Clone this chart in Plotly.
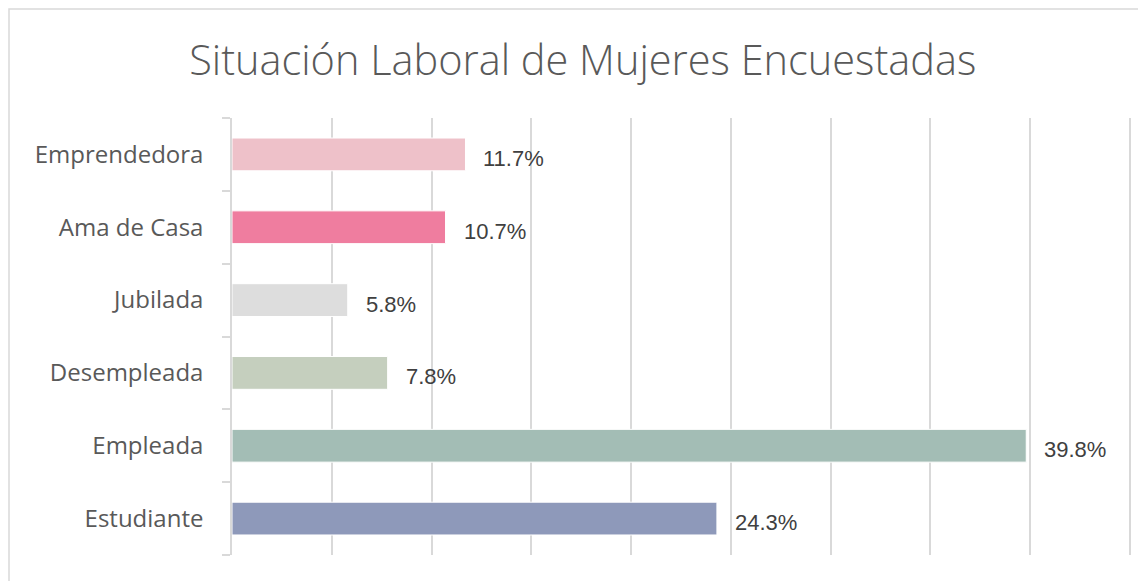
import plotly.graph_objects as go

categories = ["Estudiante", "Empleada", "Desempleada", "Jubilada", "Ama de Casa", "Emprendedora"]
values = [24.3, 39.8, 7.8, 5.8, 10.7, 11.7]
labels = ["24.3%", "39.8%", "7.8%", "5.8%", "10.7%", "11.7%"]
colors = ["#8E99BA", "#A3BDB5", "#C5CFBE", "#DDDDDD", "#EF7D9F", "#EEC1C9"]
title_text = "Situación Laboral de Mujeres Encuestadas"

FONT = "Open Sans, Lato, sans-serif"
LFONT = "Liberation Sans, Arial, sans-serif"
TXT = "#595959"

W, H = 1146, 581
ML, MR, MT, MB = 224, 22, 110, 34
PW, PH = W - ML - MR, H - MT - MB

fig = go.Figure(go.Bar(
    x=values, y=categories, orientation="h",
    marker=dict(color=colors, line=dict(color="white", width=1)),
    width=0.45, hoverinfo="skip",
))

for v, c, t in zip(values, categories, labels):
    fig.add_annotation(x=v, y=c, text=t, showarrow=False, xanchor="left",
                       xshift=16, yshift=-4,
                       font=dict(family=LFONT, size=22, color="#404040"))

fig.update_layout(
    width=W, height=H,
    margin=dict(l=ML, r=MR, t=MT, b=MB),
    paper_bgcolor="white", plot_bgcolor="white",
    title=dict(text=title_text, x=0.5015, xanchor="center", y=1 - 52 / H, yanchor="middle",
               font=dict(family=FONT, size=41.5, color=TXT, weight=300)),
    showlegend=False,
    xaxis=dict(range=[0, 45.1], tick0=0, dtick=5, showgrid=True, gridcolor="#D9D9D9", gridwidth=1.5,
               showticklabels=False, zeroline=False, showline=False, fixedrange=True),
    yaxis=dict(categoryorder="array", categoryarray=categories, tickson="boundaries",
               ticks="outside", ticklen=8, tickcolor="#D9D9D9", tickwidth=1.5,
               showline=True, linecolor="#D9D9D9", linewidth=1.5, showgrid=False,
               ticklabelstandoff=22,
               tickfont=dict(family=FONT, size=24, color=TXT)),
    shapes=[dict(type="rect", xref="paper", yref="paper",
                 x0=(1 - ML) / PW, x1=1.2, y0=-0.3, y1=(H - MB - 1) / PH,
                 line=dict(color="#D9D9D9", width=1.5), fillcolor="rgba(0,0,0,0)", layer="below")],
)

fig.write_html("out.html")
